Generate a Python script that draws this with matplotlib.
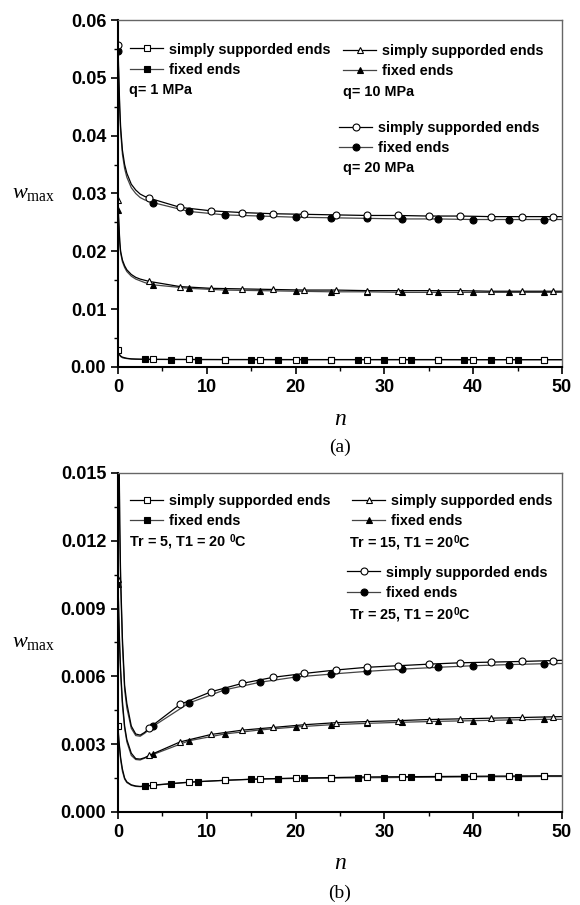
import matplotlib
matplotlib.use("Agg")
import matplotlib.pyplot as plt
from matplotlib.lines import Line2D
from matplotlib.legend import Legend
from matplotlib.ticker import MultipleLocator

plt.rcParams['mathtext.fontset'] = 'custom'
plt.rcParams['mathtext.rm'] = 'Liberation Serif'
plt.rcParams['mathtext.it'] = 'Liberation Serif:italic'
plt.rcParams['mathtext.bf'] = 'Liberation Sans:bold'

# dense start, then marker positions
n_head = [0, 0.1, 0.2, 0.3, 0.5, 0.75, 1, 1.5, 2, 2.5, 3]
n_35 = [3.5, 7, 10.5, 14, 17.5, 21, 24.5, 28, 31.5, 35, 38.5, 42, 45.5, 49, 50]
n_4 = [4, 8, 12, 16, 20, 24, 28, 32, 36, 40, 44, 48, 50]
n_3 = [6, 9, 12, 15, 18, 21, 24, 27, 30, 33, 36, 39, 42, 45, 48, 50]

# (a) pressure load
a_circ_ss = [0.0556, 0.0500, 0.0450, 0.0415, 0.0375, 0.0350, 0.0335, 0.0316, 0.0306, 0.0299, 0.0295,
             0.0292, 0.0276, 0.0270, 0.0267, 0.0265, 0.0264, 0.0263, 0.0262, 0.0262, 0.0261, 0.0261,
             0.0260, 0.0260, 0.0260, 0.0260]
a_circ_fx = [0.0546, 0.0492, 0.0442, 0.0407, 0.0368, 0.0343, 0.0328, 0.0310, 0.0300, 0.0293, 0.0289,
             0.0284, 0.0269, 0.0263, 0.0261, 0.0259, 0.0258, 0.0257, 0.0256, 0.0256, 0.0255, 0.0255,
             0.0255, 0.0255]
a_tri_ss = [0.0288, 0.0250, 0.0218, 0.0200, 0.0185, 0.0175, 0.0168, 0.0160, 0.0155, 0.0152, 0.0150,
            0.0148, 0.0139, 0.0136, 0.0135, 0.0134, 0.0133, 0.0133, 0.0132, 0.0132, 0.0132, 0.0132,
            0.0131, 0.0131, 0.0131, 0.0131]
a_tri_fx = [0.0272, 0.0245, 0.0214, 0.0197, 0.0182, 0.0172, 0.0165, 0.0157, 0.0152, 0.0149, 0.0146,
            0.0142, 0.0136, 0.0133, 0.0132, 0.0131, 0.0130, 0.0130, 0.0129, 0.0129, 0.0129, 0.0129,
            0.0129, 0.0129]
a_sq_ss = [0.0029, 0.0024, 0.0021, 0.0019, 0.0017, 0.0016, 0.0015, 0.0014, 0.00137, 0.00135, 0.00133,
           0.00132, 0.00130, 0.00129, 0.00129, 0.00128, 0.00128, 0.00128, 0.00128, 0.00128, 0.00127,
           0.00127, 0.00127, 0.00127]
a_sq_fx = [0.0027, 0.0023, 0.0020, 0.0018, 0.0016, 0.0015, 0.00145, 0.00138, 0.00134, 0.00132, 0.00131,
           0.00129, 0.00128, 0.00127, 0.00127, 0.00126, 0.00126, 0.00126, 0.00126, 0.00125, 0.00125,
           0.00125, 0.00125, 0.00125, 0.00125, 0.00125, 0.00125]

# (b) thermal load
b_circ_ss = [0.0240, 0.0170, 0.0128, 0.0104, 0.0077, 0.0056, 0.0048, 0.0038, 0.00345, 0.00340, 0.00352,
             0.00371, 0.00476, 0.00532, 0.00569, 0.00596, 0.00613, 0.00628, 0.00640, 0.00647, 0.00654,
             0.00660, 0.00663, 0.00666, 0.00670, 0.00671]
b_circ_fx = [0.0235, 0.0166, 0.0125, 0.0101, 0.0074, 0.0054, 0.0046, 0.0037, 0.00338, 0.00335, 0.00348,
             0.00380, 0.00482, 0.00540, 0.00574, 0.00597, 0.00610, 0.00622, 0.00632, 0.00640, 0.00647,
             0.00652, 0.00656, 0.00657]
b_tri_ss = [0.0103, 0.0086, 0.0073, 0.0063, 0.0049, 0.0038, 0.0032, 0.0026, 0.00236, 0.00234, 0.00240,
            0.00250, 0.00310, 0.00343, 0.00362, 0.00374, 0.00386, 0.00395, 0.00400, 0.00404, 0.00409,
            0.00412, 0.00415, 0.00418, 0.00421, 0.00422]
b_tri_fx = [0.0101, 0.0084, 0.0071, 0.0061, 0.0047, 0.0037, 0.0031, 0.0025, 0.00232, 0.00230, 0.00238,
            0.00255, 0.00315, 0.00345, 0.00363, 0.00376, 0.00386, 0.00392, 0.00397, 0.00401, 0.00404,
            0.00407, 0.00410, 0.00410]
b_sq_ss = [0.0038, 0.0032, 0.0028, 0.0024, 0.0019, 0.0015, 0.00133, 0.00120, 0.00115, 0.00113, 0.00114,
           0.00119, 0.00132, 0.00140, 0.00146, 0.00150, 0.00152, 0.00155, 0.00156, 0.00157, 0.00158,
           0.00159, 0.00160, 0.00160]
b_sq_fx = [0.0037, 0.0031, 0.0027, 0.0023, 0.0018, 0.00145, 0.00130, 0.00118, 0.00113, 0.00112, 0.00114,
           0.00125, 0.00134, 0.00140, 0.00145, 0.00147, 0.00149, 0.00150, 0.00151, 0.00152, 0.00153,
           0.00154, 0.00155, 0.00156, 0.00156, 0.00157, 0.00157]

label_ss = 'simply supporded ends'
label_fx = 'fixed ends'
notes_a = ['q= 1 MPa', 'q= 10 MPa', 'q= 20 MPa']
notes_b = [r'Tr = 5, T1 = 20 $^{\mathbf{0}}$C', r'Tr = 15, T1 = 20$^{\mathbf{0}}$C',
           r'Tr = 25, T1 = 20$^{\mathbf{0}}$C']

n_ss = n_head + n_35
n_fx = n_head + n_4
n_sq_ss = n_head + n_4
n_sq_fx = n_head + n_3

mk_ss = [0] + n_35[:-1]
mk_fx = [0] + n_4[:-1]
mk_sq_fx = [3] + n_3[:-1]

bold = {'family': 'Liberation Sans', 'weight': 'bold'}
serif = {'family': 'Liberation Serif'}
GRAY = '#444444'


def every(n, marks):
    return [i for i, x in enumerate(n) if x in marks]


def series(ax, n, w, marks, marker, filled, color):
    ax.plot(n, w, color=color, lw=0.9, marker=marker, markevery=every(n, marks), ms=5,
            mfc='black' if filled else 'white', mec='black', mew=0.8)


def handles(marker):
    h_ss = Line2D([], [], color='black', lw=0.9, marker=marker, ms=5, mfc='white', mec='black', mew=0.8)
    h_fx = Line2D([], [], color=GRAY, lw=0.9, marker=marker, ms=5, mfc='black', mec='black', mew=0.8)
    return [h_ss, h_fx]


def style(ax, ymax, ystep, fmt):
    ax.xaxis.set_major_locator(MultipleLocator(10))
    ax.xaxis.set_minor_locator(MultipleLocator(5))
    ax.yaxis.set_major_locator(MultipleLocator(ystep))
    ax.yaxis.set_minor_locator(MultipleLocator(ystep / 2))
    ax.tick_params(which='major', direction='out', length=5, width=1.2, labelsize=13)
    ax.tick_params(which='minor', direction='out', length=3, width=1)
    ax.set_xlim(0, 50)
    ax.set_ylim(0, ymax)
    ax.set_yticks(ax.get_yticks())
    ax.set_yticklabels([fmt.format(v) for v in ax.get_yticks()], fontdict=bold)
    ax.set_xticks(ax.get_xticks())
    ax.set_xticklabels(['{:g}'.format(v) for v in ax.get_xticks()], fontdict=bold)
    ax.set_xlim(0, 50)
    ax.set_ylim(0, ymax)
    for s in ['left', 'bottom']:
        ax.spines[s].set_linewidth(1.5)
    for s in ['top', 'right']:
        ax.spines[s].set_linewidth(1)
        ax.spines[s].set_color('#666666')
    ax.set_xlabel(r'$n$', fontsize=17, labelpad=7)
    ax.set_ylabel(r'$w_{\mathrm{max}}$', fontsize=16, rotation=0, ha='center', va='center')
    ax.yaxis.set_label_coords(-0.19, 0.5)


def legends(ax, pos, notes, note_pos):
    leg_kw = dict(loc='upper left', frameon=False, borderpad=0, borderaxespad=0, handlelength=2.3,
                  handletextpad=0.4, labelspacing=0.42,
                  prop={'family': 'Liberation Sans', 'weight': 'bold', 'size': 10.4})
    for marker, xy in zip(['s', '^', 'o'], pos):
        leg = Legend(ax, handles(marker), [label_ss, label_fx], bbox_to_anchor=xy,
                     bbox_transform=ax.transAxes, **leg_kw)
        ax.add_artist(leg)
    for txt, xy in zip(notes, note_pos):
        ax.text(xy[0], xy[1], txt, transform=ax.transAxes, fontsize=10.4, fontdict=bold, va='center')


fig = plt.figure(figsize=(5.8, 9.05), dpi=100)
ax1 = fig.add_axes([0.2034, 0.5945, 0.7655, 0.3834])
ax2 = fig.add_axes([0.2034, 0.1028, 0.7655, 0.3746])

series(ax1, n_sq_fx, a_sq_fx, mk_sq_fx, 's', True, GRAY)
series(ax1, n_sq_ss, a_sq_ss, mk_fx, 's', False, 'black')
series(ax1, n_fx, a_tri_fx, mk_fx, '^', True, GRAY)
series(ax1, n_ss, a_tri_ss, mk_ss, '^', False, 'black')
series(ax1, n_fx, a_circ_fx, mk_fx, 'o', True, GRAY)
series(ax1, n_ss, a_circ_ss, mk_ss, 'o', False, 'black')
style(ax1, 0.06, 0.01, '{:.2f}')
legends(ax1, [(0.027, 0.935), (0.507, 0.932), (0.498, 0.710)], notes_a,
        [(0.025, 0.798), (0.507, 0.793), (0.507, 0.573)])
ax1.text(0.5, -0.233, '(a)', transform=ax1.transAxes, ha='center', va='center', fontsize=14, fontdict=serif)

series(ax2, n_sq_fx, b_sq_fx, mk_sq_fx, 's', True, GRAY)
series(ax2, n_sq_ss, b_sq_ss, mk_fx, 's', False, 'black')
series(ax2, n_fx, b_tri_fx, mk_fx, '^', True, GRAY)
series(ax2, n_ss, b_tri_ss, mk_ss, '^', False, 'black')
series(ax2, n_fx, b_circ_fx, mk_fx, 'o', True, GRAY)
series(ax2, n_ss, b_circ_ss, mk_ss, 'o', False, 'black')
style(ax2, 0.015, 0.003, '{:.3f}')
legends(ax2, [(0.027, 0.937), (0.527, 0.937), (0.516, 0.727)], notes_b,
        [(0.025, 0.796), (0.520, 0.794), (0.520, 0.581)])
ax2.text(0.5, -0.239, '(b)', transform=ax2.transAxes, ha='center', va='center', fontsize=14, fontdict=serif)

fig.savefig('out.png', dpi=100)
